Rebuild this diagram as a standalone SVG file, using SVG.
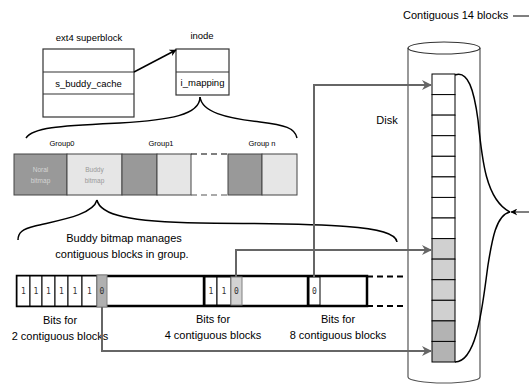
<svg xmlns="http://www.w3.org/2000/svg" width="529" height="385" viewBox="0 0 529 385">
<defs>
<marker id="ab" viewBox="0 0 10 10" refX="9" refY="5" markerWidth="7" markerHeight="7" markerUnits="userSpaceOnUse" orient="auto"><path d="M0,0 L10,5 L0,10 L3,5 Z" fill="#000"/></marker>
<marker id="ag" viewBox="0 0 10 10" refX="9" refY="5" markerWidth="10" markerHeight="10" markerUnits="userSpaceOnUse" orient="auto"><path d="M0,0 L10,5 L0,10 L3,5 Z" fill="#666"/></marker>
<style>
text{font-family:"Liberation Sans",Arial,sans-serif;fill:#000}
.t95{font-size:9.5px}
.t11{font-size:11px}
.t75{font-size:7.5px}
.tiny{font-size:6.5px}
.mono{font-family:"DejaVu Sans Mono","Liberation Mono",monospace;font-size:8px;fill:#333}
.box{fill:#fff;stroke:#333;stroke-width:1.2}
.dk{fill:#999;stroke:#444;stroke-width:1}
.lt{fill:#e6e6e6;stroke:#444;stroke-width:1}
.cell{fill:#fff;stroke:#000;stroke-width:1}
.brace{fill:none;stroke:#000;stroke-width:1.5}
.conn{fill:none;stroke:#666;stroke-width:2}
.blk{stroke:#000;stroke-width:1}
</style>
</defs>
<rect width="529" height="385" fill="#fff"/>

<g id="superblock">
<text class="t95" x="89" y="41" text-anchor="middle">ext4 superblock</text>
<rect class="box" x="43" y="49" width="91" height="68"/>
<line x1="43" y1="72" x2="134" y2="72" stroke="#333" stroke-width="1.2"/>
<line x1="43" y1="94" x2="134" y2="94" stroke="#333" stroke-width="1.2"/>
<text class="t95" x="88.5" y="87" text-anchor="middle">s_buddy_cache</text>
</g>

<g id="inode">
<text class="t95" x="202" y="39" text-anchor="middle">inode</text>
<rect class="box" x="176" y="49" width="53" height="46"/>
<line x1="176" y1="72" x2="229" y2="72" stroke="#333" stroke-width="1.2"/>
<text class="t95" x="202.5" y="86" text-anchor="middle">i_mapping</text>
</g>

<g id="groups">
<text class="t75" x="62" y="146" text-anchor="middle">Group0</text>
<text class="t75" x="161" y="146" text-anchor="middle">Group1</text>
<text class="t75" x="262" y="146" text-anchor="middle">Group n</text>
<rect class="dk" x="14" y="154" width="53" height="41"/>
<rect class="lt" x="67" y="154" width="55" height="41"/>
<rect class="dk" x="122" y="154" width="35" height="41"/>
<rect class="lt" x="157" y="154" width="34" height="41"/>
<line x1="191" y1="154" x2="228" y2="154" stroke="#000" stroke-width="1.2" stroke-dasharray="6,4"/>
<line x1="191" y1="195" x2="228" y2="195" stroke="#555" stroke-width="1.2" stroke-dasharray="6,4"/>
<rect class="dk" x="228" y="154" width="34" height="41"/>
<rect class="lt" x="262" y="154" width="35" height="41"/>
<text class="tiny" x="40.5" y="172" text-anchor="middle" fill="#ccc" style="fill:#d4d4d4">Noral</text>
<text class="tiny" x="40.5" y="183" text-anchor="middle" style="fill:#d4d4d4">bitmap</text>
<text class="tiny" x="94.5" y="172" text-anchor="middle" style="fill:#999">Buddy</text>
<text class="tiny" x="94.5" y="183" text-anchor="middle" style="fill:#999">bitmap</text>
</g>

<g id="buddy-label">
<text class="t11" x="124" y="242" text-anchor="middle">Buddy bitmap manages</text>
<text class="t11" x="122" y="258" text-anchor="middle">contiguous blocks in group.</text>
</g>

<g id="bitmap-row">
<rect x="17" y="276" width="350" height="30" fill="#fff" stroke="#000" stroke-width="2.5"/>
<rect class="cell" x="17" y="276" width="13" height="30"/>
<rect class="cell" x="30" y="276" width="12" height="30"/>
<rect class="cell" x="42" y="276" width="13" height="30"/>
<rect class="cell" x="55" y="276" width="13" height="30"/>
<rect class="cell" x="68" y="276" width="14" height="30"/>
<rect class="cell" x="82" y="276" width="15" height="30"/>
<rect x="97" y="275" width="10" height="32" fill="#b0b0b0" stroke="#808080" stroke-width="1"/>
<text class="mono" x="23.5" y="294" text-anchor="middle">1</text>
<text class="mono" x="36" y="294" text-anchor="middle">1</text>
<text class="mono" x="48.5" y="294" text-anchor="middle">1</text>
<text class="mono" x="61.5" y="294" text-anchor="middle">1</text>
<text class="mono" x="75" y="294" text-anchor="middle">1</text>
<text class="mono" x="89.5" y="294" text-anchor="middle">1</text>
<text class="mono" x="102" y="294" text-anchor="middle">0</text>
<line x1="204" y1="276" x2="204" y2="306" stroke="#000" stroke-width="2.5"/>
<rect class="cell" x="205" y="277" width="12" height="28"/>
<rect class="cell" x="217" y="277" width="14" height="28"/>
<rect x="231" y="277" width="11" height="28" fill="#d3d3d3" stroke="#808080" stroke-width="1"/>
<text class="mono" x="211" y="294" text-anchor="middle">1</text>
<text class="mono" x="224" y="294" text-anchor="middle">1</text>
<text class="mono" x="236.5" y="294" text-anchor="middle">0</text>
<line x1="308" y1="276" x2="308" y2="306" stroke="#000" stroke-width="2.5"/>
<rect class="cell" x="309" y="277" width="11" height="28"/>
<text class="mono" x="314.5" y="294" text-anchor="middle">0</text>
<line x1="367" y1="276.5" x2="407" y2="276.5" stroke="#000" stroke-width="2" stroke-dasharray="6,4"/>
<line x1="367" y1="306" x2="407" y2="306" stroke="#000" stroke-width="2" stroke-dasharray="6,4"/>
<text class="t11" x="60" y="324" text-anchor="middle">Bits for</text>
<text class="t11" x="60" y="340" text-anchor="middle">2 contiguous blocks</text>
<text class="t11" x="213" y="323" text-anchor="middle">Bits for</text>
<text class="t11" x="213" y="339" text-anchor="middle">4 contiguous blocks</text>
<text class="t11" x="338" y="323" text-anchor="middle">Bits for</text>
<text class="t11" x="338" y="339" text-anchor="middle">8 contiguous blocks</text>
</g>

<g id="disk">
<path d="M408,48 V377 A36,6 0 0 0 480,377 V48" fill="#fff" stroke="#555" stroke-width="1.2"/>
<ellipse cx="444" cy="48" rx="36" ry="6" fill="#fff" stroke="#333" stroke-width="1.2"/>
<text class="t11" x="387" y="124" text-anchor="middle">Disk</text>
<g class="blk">
<rect x="432" y="74" width="23" height="20.6" fill="#fff"/>
<rect x="432" y="94.6" width="23" height="20.6" fill="#fff"/>
<rect x="432" y="115.1" width="23" height="20.6" fill="#fff"/>
<rect x="432" y="135.7" width="23" height="20.6" fill="#fff"/>
<rect x="432" y="156.3" width="23" height="20.6" fill="#fff"/>
<rect x="432" y="176.9" width="23" height="20.6" fill="#fff"/>
<rect x="432" y="197.4" width="23" height="20.6" fill="#fff"/>
<rect x="432" y="218" width="23" height="20.6" fill="#fff"/>
<rect x="432" y="238.6" width="23" height="20.6" fill="#d0d0d0"/>
<rect x="432" y="259.1" width="23" height="20.6" fill="#d0d0d0"/>
<rect x="432" y="279.7" width="23" height="20.6" fill="#d0d0d0"/>
<rect x="432" y="300.3" width="23" height="20.6" fill="#d0d0d0"/>
<rect x="432" y="320.9" width="23" height="20.6" fill="#b3b3b3"/>
<rect x="432" y="341.4" width="23" height="20.6" fill="#b3b3b3"/>
</g>
</g>

<g id="label-14">
<text class="t11" x="403" y="19">Contiguous 14 blocks</text>
<line x1="513" y1="16" x2="529" y2="16" stroke="#000" stroke-width="1"/>
</g>

<g id="connectors">
<line x1="134" y1="72" x2="176" y2="50" stroke="#000" stroke-width="1.5" marker-end="url(#ab)"/>
<path class="brace" d="M200,97 C200,115 170,120 120,123 C60,126 33,127 26,138"/>
<path class="brace" d="M200,97 C202,112 225,118 260,122 C285,125 295,128 297,138"/>
<path class="brace" d="M97,200 C93,215 60,220 35,226 C22,229 18,233 18,240"/>
<path class="brace" d="M97,200 C100,215 130,222 200,223 C330,224 395,225 397,242"/>
<path class="brace" d="M455,75 C468,70 474,90 478,120 C482,160 486,200 510,212"/>
<path class="brace" d="M510,212 C496,215 492,240 488,265 C483,300 478,362 455,362"/>
<line x1="529" y1="212" x2="511" y2="212" stroke="#000" stroke-width="1" marker-end="url(#ab)"/>
<path class="conn" d="M102,307 V351 H431" marker-end="url(#ag)"/>
<path class="conn" d="M236,277 V250 H431" marker-end="url(#ag)"/>
<path class="conn" d="M314,277 V85 H431" marker-end="url(#ag)"/>
</g>
</svg>
